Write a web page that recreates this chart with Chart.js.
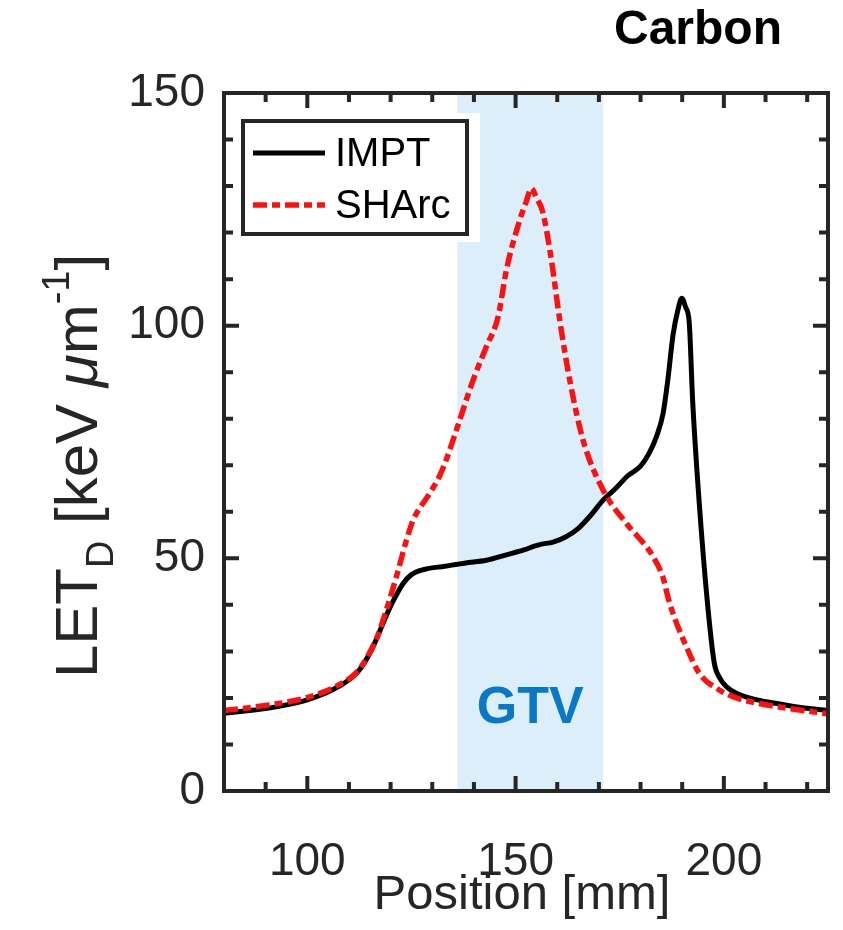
<!DOCTYPE html>
<html>
<head>
<meta charset="utf-8">
<title>LET_D profile - Carbon</title>
<script src="https://cdn.jsdelivr.net/npm/chart.js@4.4.1/dist/chart.umd.min.js"></script>
<style>
  html, body { margin: 0; padding: 0; background: #fff; }
  #wrap { width: 843px; height: 930px; }
</style>
</head>
<body>
<div id="wrap"><canvas id="chart" width="843" height="930"></canvas></div>
<script>
/* ---------- Data ---------- */
const imptPos = [80, 85, 90, 95, 100, 104, 108, 111, 113, 115, 117, 119, 121, 123, 125, 128, 133, 138, 143, 148,
  152, 154.5, 156, 159, 162, 165, 168, 171, 174, 177, 180, 182, 183.8, 185.4, 186.5, 187.8, 189, 189.9, 190.8,
  191.7, 192.5, 194, 196, 197.7, 199, 200.5, 203, 207, 212, 218, 225];
const imptLet = [16.7, 17.2, 17.7, 18.5, 19.6, 20.9, 22.7, 24.6, 26.6, 29.6, 33.5, 37.8, 41.5, 44.6, 46.5, 47.6, 48.3, 49.0, 49.6, 50.8,
  51.8, 52.6, 53.0, 53.5, 54.6, 56.4, 59.2, 62.5, 65.0, 67.8, 69.8, 72.5, 76.1, 81.1, 88.0, 98.0, 103.5, 105.9, 104.0,
  100.5, 84.0, 63.0, 41.0, 27.5, 24.3, 22.5, 21.0, 19.8, 18.9, 18.0, 17.3];

const sharcPos = [80, 85, 90, 95, 100, 104, 108, 111, 113, 115, 117, 119, 121.4, 123.8, 125.4, 129.4, 131.8, 133.4, 135.8,
  139.8, 143, 145.8, 147.8, 151, 152.5, 153.8, 155, 156.5, 158.6, 160.6, 163, 166.2, 171, 176.6, 181.4, 183, 185.3,
  187, 191, 194.1, 198.9, 203, 208.5, 215, 225];
const sharcLet = [17.3, 17.8, 18.4, 19.1, 20.1, 21.3, 23.0, 24.8, 26.8, 29.8, 33.6, 39.0, 46.1, 53.9, 58.2, 64.0, 67.8, 71.3, 77.6,
  88.3, 95.5, 101.9, 112.0, 122.7, 126.5, 129.5, 127.5, 124.5, 114.1, 101.2, 88.3, 75.4, 64.7, 57.5, 52.5, 50.4, 46.1,
  40.3, 31.0, 25.3, 21.7, 20.0, 18.8, 17.8, 16.6];

const xTicks = [100, 150, 200];
const yTicks = [0, 50, 100, 150];
const gtvRange = [136, 171];

/* ---------- Style ---------- */
const FONT = "'Liberation Sans', Arial, Helvetica, sans-serif";
const INK = "#262626";
const toPts = (xs, ys) => xs.map((x, i) => ({ x, y: ys[i] }));

/* ---------- Plugin: band, frame, ticks, legend, labels ---------- */
const decor = {
  id: "decor",
  beforeDatasetsDraw(chart) {
    const { ctx, chartArea: a, scales: { x } } = chart;
    ctx.save();
    ctx.fillStyle = "rgb(221,238,251)";
    const x0 = x.getPixelForValue(gtvRange[0]), x1 = x.getPixelForValue(gtvRange[1]);
    ctx.fillRect(x0, a.top, x1 - x0, a.bottom - a.top);
    ctx.restore();
  },
  afterDatasetsDraw(chart) {
    const { ctx, chartArea: a, scales: { x, y } } = chart;
    ctx.save();

    // GTV label
    ctx.fillStyle = "#0a78c8";
    ctx.font = "bold 52px " + FONT;
    ctx.textAlign = "center";
    ctx.textBaseline = "middle";
    ctx.fillText("GTV", x.getPixelForValue(153.5), y.getPixelForValue(17.6));

    // legend
    ctx.fillStyle = "#fff";
    ctx.fillRect(232, 113, 248, 129);
    ctx.strokeStyle = INK;
    ctx.lineWidth = 4;
    ctx.strokeRect(243, 121, 224, 113);
    ctx.font = "40px " + FONT;
    ctx.textAlign = "left";
    chart.data.datasets.forEach((ds, i) => {
      const ly = 153 + i * 52;
      ctx.beginPath();
      ctx.strokeStyle = ds.borderColor;
      ctx.lineWidth = ds.borderWidth;
      ctx.setLineDash(ds.borderDash || []);
      ctx.moveTo(253, ly);
      ctx.lineTo(325, ly);
      ctx.stroke();
      ctx.setLineDash([]);
      ctx.fillStyle = "#000";
      ctx.fillText(ds.label, 335, ly + 2);
    });

    // frame and inward ticks on all sides
    ctx.strokeStyle = INK;
    ctx.lineWidth = 4;
    ctx.beginPath();
    for (let v = x.min; v <= x.max; v += 10) {
      const px = x.getPixelForValue(v);
      const len = xTicks.includes(v) ? 15 : 9;
      ctx.moveTo(px, a.bottom); ctx.lineTo(px, a.bottom - len);
      ctx.moveTo(px, a.top); ctx.lineTo(px, a.top + len);
    }
    for (let v = y.min; v <= y.max; v += 10) {
      const py = y.getPixelForValue(v);
      const len = yTicks.includes(v) ? 15 : 9;
      ctx.moveTo(a.left, py); ctx.lineTo(a.left + len, py);
      ctx.moveTo(a.right, py); ctx.lineTo(a.right - len, py);
    }
    ctx.stroke();
    ctx.lineJoin = "miter";
    ctx.strokeRect(a.left, a.top, a.right - a.left, a.bottom - a.top);

    // title
    ctx.fillStyle = "#000";
    ctx.font = "bold 48px " + FONT;
    ctx.textAlign = "center";
    ctx.textBaseline = "middle";
    ctx.fillText("Carbon", 698, 31);

    // x axis title
    ctx.fillStyle = INK;
    ctx.font = "49px " + FONT;
    ctx.fillText("Position [mm]", (a.left + a.right) / 2 - 4, 895);

    // y axis title with subscript / superscript
    const parts = [
      { t: "LET", f: "60px " + FONT, dy: 0 },
      { t: "D", f: "38px " + FONT, dy: 16 },
      { t: " [keV ", f: "60px " + FONT, dy: 0 },
      { t: "\u03bc", f: "italic 60px " + FONT, dy: 0 },
      { t: "m", f: "60px " + FONT, dy: 0 },
      { t: "-1", f: "38px " + FONT, dy: -28 },
      { t: "]", f: "60px " + FONT, dy: 0 }
    ];
    let total = 0;
    parts.forEach(p => { ctx.font = p.f; p.w = ctx.measureText(p.t).width; total += p.w; });
    ctx.translate(97, 466);
    ctx.rotate(-Math.PI / 2);
    ctx.textAlign = "left";
    ctx.textBaseline = "alphabetic";
    let cx = -total / 2;
    parts.forEach(p => { ctx.font = p.f; ctx.fillText(p.t, cx, p.dy); cx += p.w; });
    ctx.restore();
  }
};

/* ---------- Chart ---------- */
new Chart(document.getElementById("chart"), {
  type: "line",
  data: {
    datasets: [
      {
        label: "IMPT",
        data: toPts(imptPos, imptLet),
        borderColor: "#000",
        borderWidth: 5,
        order: 2
      },
      {
        label: "SHArc",
        data: toPts(sharcPos, sharcLet),
        borderColor: "#ff1010",
        borderWidth: 5.5,
        borderDash: [14, 5, 8, 5],
        order: 1
      }
    ]
  },
  options: {
    responsive: false,
    animation: false,
    devicePixelRatio: 1,
    layout: { padding: { left: 0, right: 15, top: 93, bottom: 0 } },
    elements: {
      point: { radius: 0 },
      line: { cubicInterpolationMode: "monotone", fill: false, borderCapStyle: "butt" }
    },
    plugins: { legend: { display: false }, tooltip: { enabled: false }, title: { display: false } },
    scales: {
      x: {
        type: "linear",
        min: 80,
        max: 225,
        afterFit: s => { s.height = 139; },
        afterBuildTicks: s => { s.ticks = xTicks.map(v => ({ value: v })); },
        grid: { display: false, drawTicks: false },
        border: { display: false },
        ticks: { color: INK, padding: 44, font: { family: FONT, size: 46 }, maxRotation: 0 }
      },
      y: {
        type: "linear",
        min: 0,
        max: 150,
        afterFit: s => { s.width = 224; },
        afterBuildTicks: s => { s.ticks = yTicks.map(v => ({ value: v })); },
        grid: { display: false, drawTicks: false },
        border: { display: false },
        ticks: { color: INK, padding: 19, font: { family: FONT, size: 46 } }
      }
    }
  },
  plugins: [decor]
});
</script>
</body>
</html>
